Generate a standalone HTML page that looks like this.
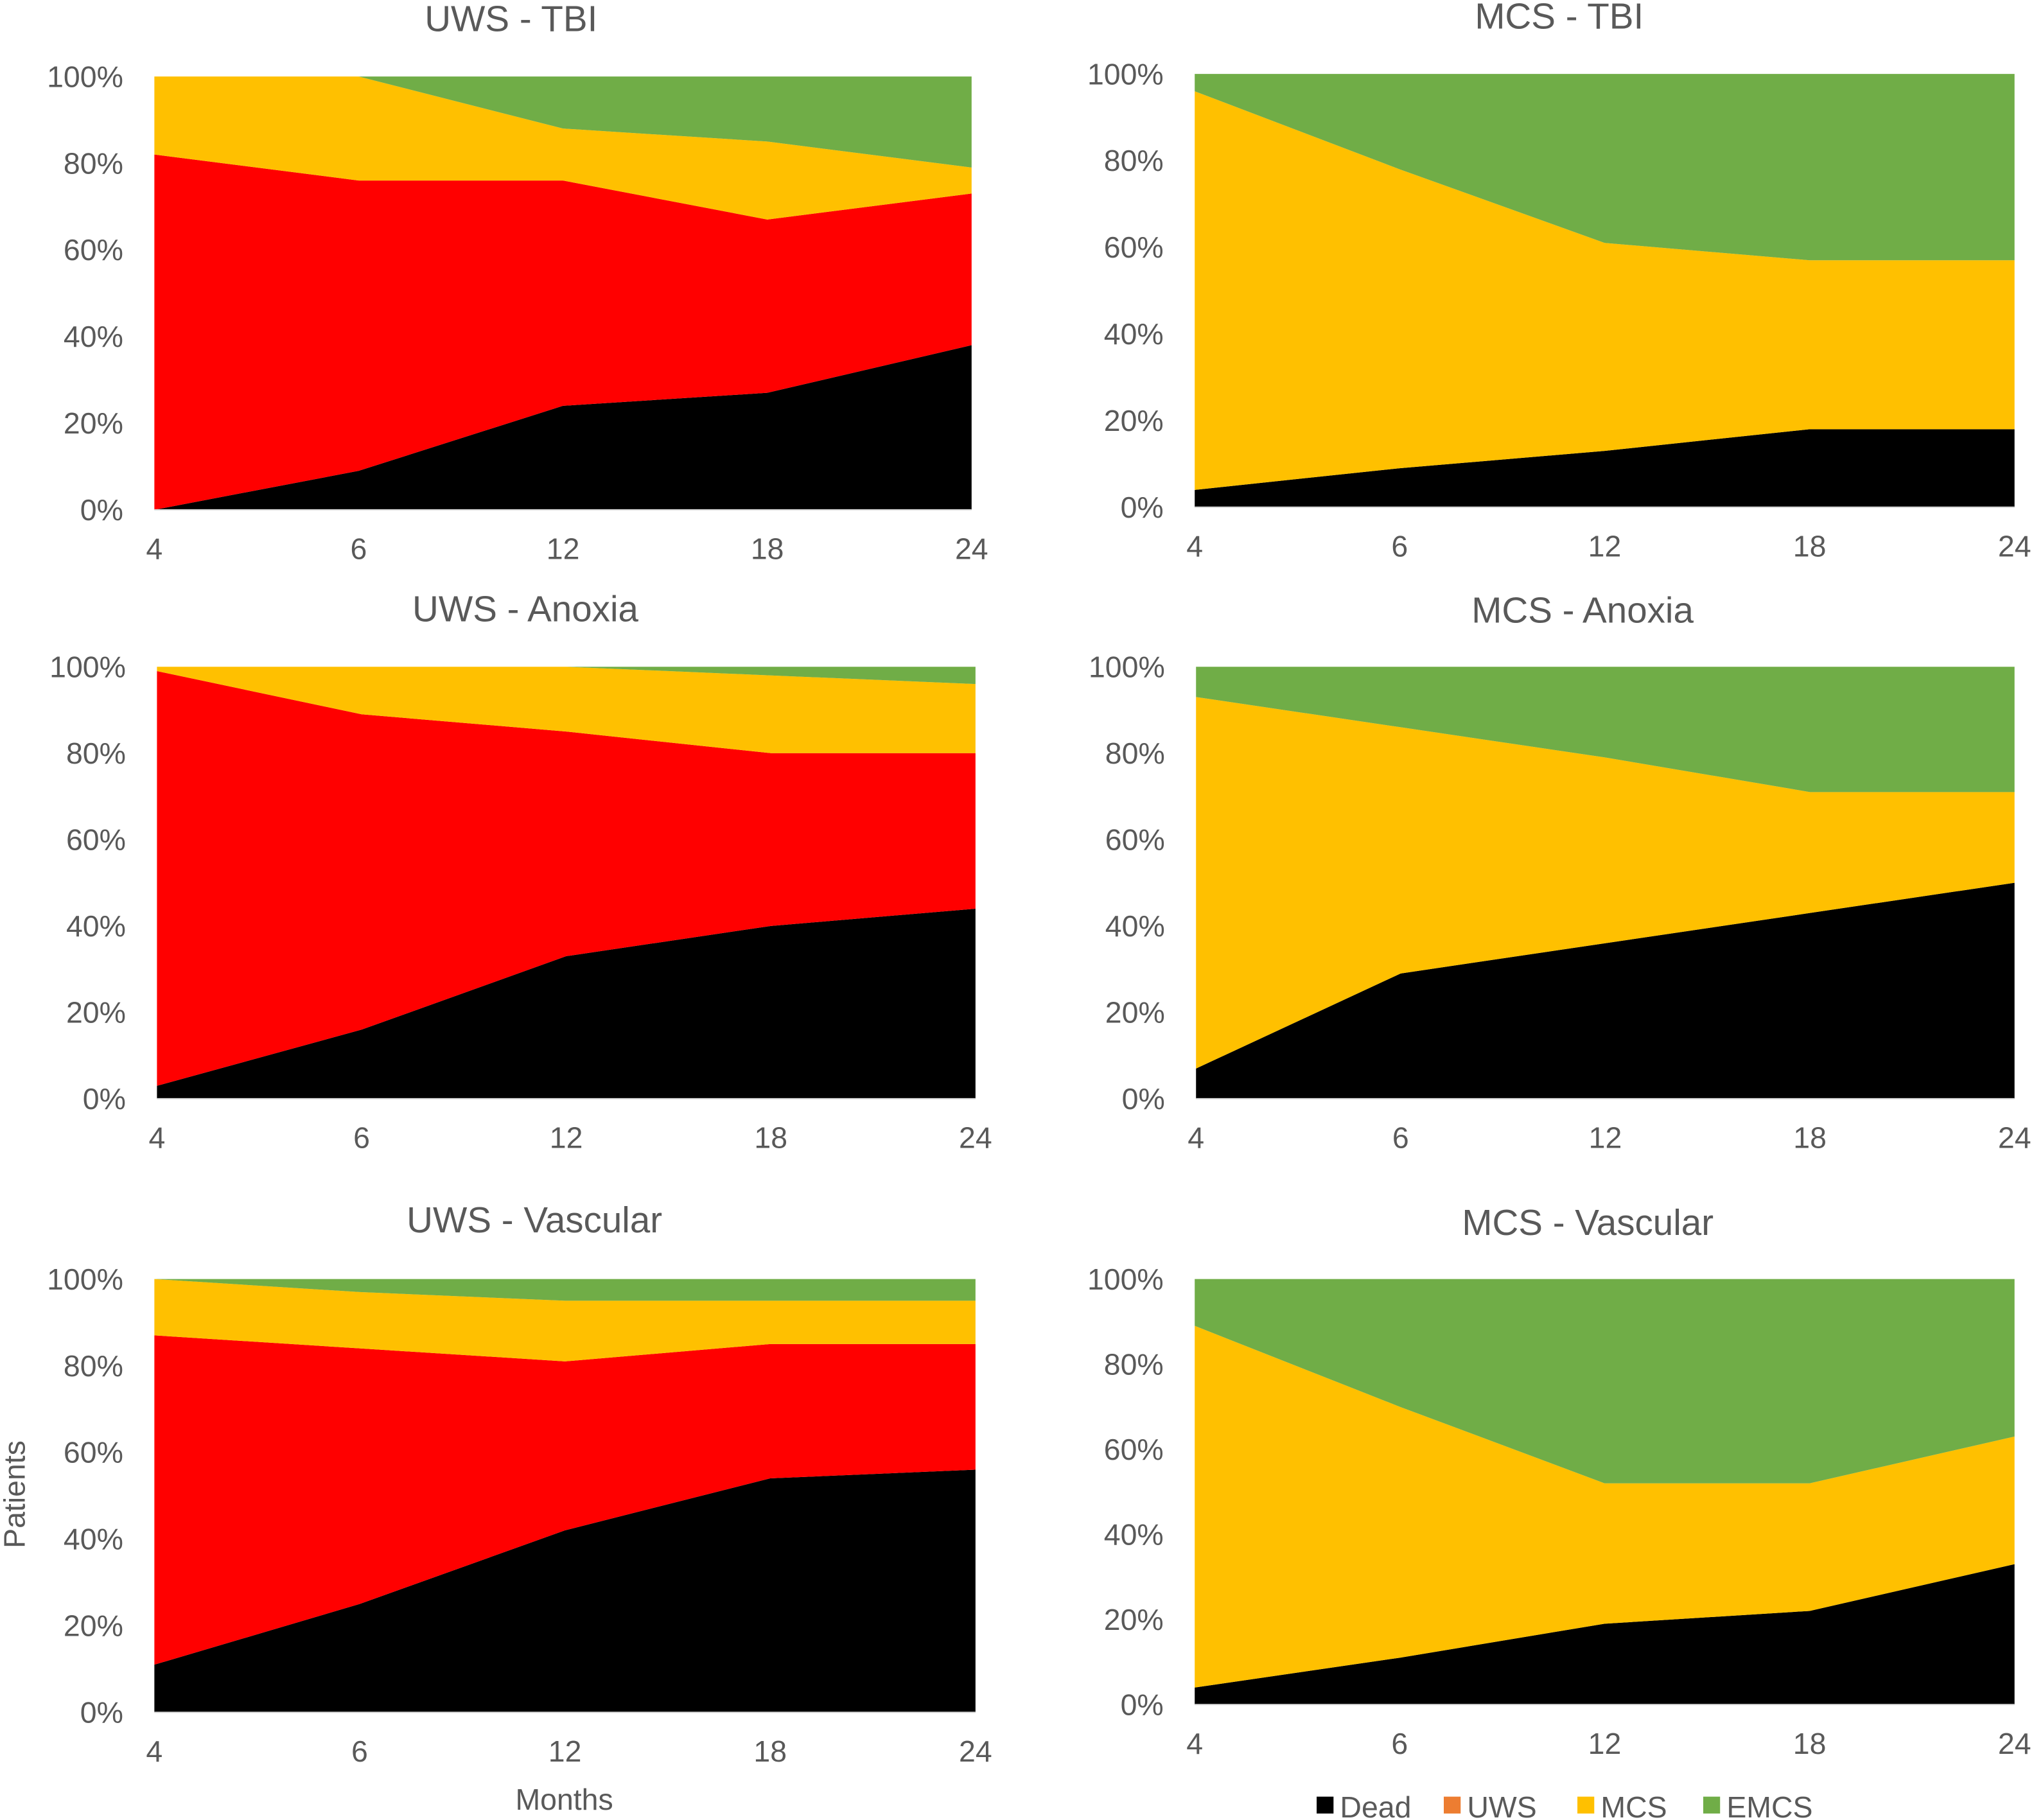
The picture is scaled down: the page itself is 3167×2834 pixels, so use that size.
<!DOCTYPE html>
<html><head><meta charset="utf-8"><style>
html,body{margin:0;padding:0;background:#fff;}
svg{display:block;font-family:"Liberation Sans",Arial,sans-serif;}
</style></head><body>
<svg id="chart" width="3167" height="2834" viewBox="0 0 1568 1403" preserveAspectRatio="none" xmlns="http://www.w3.org/2000/svg"></svg>
<script>
const categories = ["4","6","12","18","24"];
const yTicks = [0,20,40,60,80,100];
const seriesNames = ["Dead","UWS","MCS","EMCS"];
const colors = ["#000000","#ff0000","#ffc000","#70ad47"];
const legendColors = ["#000000","#ed7d31","#ffc000","#70ad47"];
// per-panel series values (percent)
const uwsTbiDead = [0,9,24,27,38];
const uwsTbiUws = [82,67,52,40,35];
const uwsTbiMcs = [18,24,12,18,6];
const mcsTbiDead = [4,9,13,18,18];
const mcsTbiUws = [0,0,0,0,0];
const mcsTbiMcs = [92,69,48,39,39];
const uwsAnoxDead = [3,16,33,40,44];
const uwsAnoxUws = [96,73,52,40,36];
const uwsAnoxMcs = [1,11,15,18,16];
const mcsAnoxDead = [7,29,36,43,50];
const mcsAnoxUws = [0,0,0,0,0];
const mcsAnoxMcs = [86,57,43,28,21];
const uwsVascDead = [11,25,42,54,56];
const uwsVascUws = [76,59,39,31,29];
const uwsVascMcs = [13,13,14,10,10];
const mcsVascDead = [4,11,19,22,33];
const mcsVascUws = [0,0,0,0,0];
const mcsVascMcs = [85,59,33,30,30];

const panels = [
 {name:"uws-tbi",title:"UWS - TBI",x0:119,x1:749,yt:59,yb:393,tx:394,ty:24,d:[uwsTbiDead,uwsTbiUws,uwsTbiMcs]},
 {name:"mcs-tbi",title:"MCS - TBI",x0:921,x1:1553,yt:57,yb:391,tx:1202,ty:22,d:[mcsTbiDead,mcsTbiUws,mcsTbiMcs]},
 {name:"uws-anoxia",title:"UWS - Anoxia",x0:121,x1:752,yt:514,yb:847,tx:405,ty:479,d:[uwsAnoxDead,uwsAnoxUws,uwsAnoxMcs]},
 {name:"mcs-anoxia",title:"MCS - Anoxia",x0:922,x1:1553,yt:514,yb:847,tx:1220,ty:480,d:[mcsAnoxDead,mcsAnoxUws,mcsAnoxMcs]},
 {name:"uws-vascular",title:"UWS - Vascular",x0:119,x1:752,yt:986,yb:1320,tx:412,ty:950,d:[uwsVascDead,uwsVascUws,uwsVascMcs]},
 {name:"mcs-vascular",title:"MCS - Vascular",x0:921,x1:1553,yt:986,yb:1314,tx:1224,ty:952,d:[mcsVascDead,mcsVascUws,mcsVascMcs]}
];
const svg = document.getElementById('chart');
const NS = "http://www.w3.org/2000/svg";
function mk(tag, attrs, parent){const e=document.createElementNS(NS,tag);for(const k in attrs)e.setAttribute(k,attrs[k]);(parent||svg).appendChild(e);return e;}

panels.forEach(p=>{
  const g = mk('g',{});
  
  
  const xs = i => p.x0 + (p.x1-p.x0)*i/(categories.length-1);
  const ys = v => p.yb - (p.yb-p.yt)*v/100;
  let lower = categories.map(()=>0);
  for(let s=0;s<4;s++){
    let upper;
    if(s<3) upper = lower.map((l,i)=>l+p.d[s][i]);
    else upper = categories.map(()=>100);
    let pts=[];
    categories.forEach((c,i)=>pts.push(xs(i)+','+ys(upper[i])));
    for(let i=categories.length-1;i>=0;i--) pts.push(xs(i)+','+ys(lower[i]));
    const poly = mk('polygon',{points:pts.join(' '),fill:colors[s]},g);
    
    
    lower = upper;
  }
  mk('line',{x1:p.x0,x2:p.x1,y1:p.yb,y2:p.yb,stroke:'#d9d9d9','stroke-width':1},g);
  yTicks.forEach(t=>{
    const tx = mk('text',{x:p.x0-24,y:ys(t)+8,'text-anchor':'end','font-size':23,fill:'#595959'},g);
    tx.textContent = t+'%';
    
    
  });
  categories.forEach((c,i)=>{
    const tx = mk('text',{x:xs(i),y:p.yb+38,'text-anchor':'middle','font-size':23,fill:'#595959'},g);
    tx.textContent = c;
    
    
  });
  const tt = mk('text',{x:p.tx,y:p.ty,'text-anchor':'middle','font-size':28,fill:'#595959'},g);
  tt.textContent = p.title;
  
  
});
const yt = mk('text',{x:0,y:0,transform:'translate(19,1152) rotate(-90)','text-anchor':'middle','font-size':23,fill:'#595959'});
yt.textContent='Patients';


const xt = mk('text',{x:435,y:1395,'text-anchor':'middle','font-size':23,fill:'#595959'});
xt.textContent='Months';


const legX = [1015,1113,1216,1313];
seriesNames.forEach((n,i)=>{
  const lg = mk('g',{});
  
  
  mk('rect',{x:legX[i],y:1385,width:13,height:13,fill:legendColors[i]},lg);
  const t = mk('text',{x:legX[i]+18,y:1401,'font-size':23,fill:'#595959'},lg);
  t.textContent = n;
});
</script>
</body></html>
